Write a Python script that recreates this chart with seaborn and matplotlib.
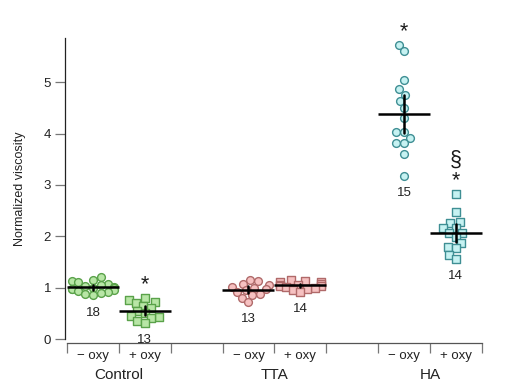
import matplotlib
matplotlib.use("Agg")
import matplotlib.pyplot as plt
import matplotlib.transforms as mtransforms
import seaborn as sns
import pandas as pd
import numpy as np

sns.set_theme(style="white")
plt.rcParams['font.family'] = ['Liberation Sans', 'DejaVu Sans']

# ---- data ----
groups = ["Control", "TTA", "HA"]
conditions = ["− oxy", "+ oxy"]
ctrl_minus = [1.20, 1.15, 1.12, 1.10, 1.08, 1.05, 1.03, 1.02, 1.00, 1.00, 0.98, 0.97, 0.95, 0.93, 0.92, 0.90, 0.88, 0.85]
ctrl_plus = [0.80, 0.75, 0.72, 0.70, 0.65, 0.60, 0.55, 0.50, 0.45, 0.42, 0.40, 0.35, 0.32]
tta_minus = [1.15, 1.12, 1.08, 1.05, 1.02, 1.00, 0.97, 0.95, 0.92, 0.88, 0.85, 0.80, 0.72]
tta_plus = [1.15, 1.12, 1.10, 1.10, 1.08, 1.06, 1.05, 1.04, 1.03, 1.02, 1.00, 0.98, 0.95, 0.92]
ha_minus = [5.72, 5.60, 5.04, 4.86, 4.75, 4.63, 4.50, 4.30, 4.03, 4.03, 3.91, 3.81, 3.81, 3.60, 3.18]
ha_plus = [2.82, 2.48, 2.28, 2.25, 2.16, 2.16, 2.07, 2.06, 1.99, 1.87, 1.80, 1.77, 1.63, 1.56]
sig_marks = {"Control|+ oxy": "*", "HA|− oxy": "*", "HA|+ oxy": "§\n*"}

series = {
    ("Control", "− oxy"): ctrl_minus, ("Control", "+ oxy"): ctrl_plus,
    ("TTA", "− oxy"): tta_minus, ("TTA", "+ oxy"): tta_plus,
    ("HA", "− oxy"): ha_minus, ("HA", "+ oxy"): ha_plus,
}
rows = []
for (g, c), vals in series.items():
    for v in vals:
        rows.append({"key": f"{g}|{c}", "group": g, "cond": c, "value": v})
df = pd.DataFrame(rows)

order = ["Control|− oxy", "Control|+ oxy", "gap1",
         "TTA|− oxy", "TTA|+ oxy", "gap2",
         "HA|− oxy", "HA|+ oxy"]

face = {"Control": "#b8e6a6", "TTA": "#f6c1c1", "HA": "#c6f2f2"}
edge = {"Control": "#5aa24a", "TTA": "#b06a6a", "HA": "#3f8f94"}
markers = {"− oxy": "o", "+ oxy": "s"}

fig = plt.figure(figsize=(5.14, 3.92), dpi=100)
ax = fig.add_axes([65 / 514, (392 - 339) / 392, 427 / 514, (339 - 38) / 392])
ax.set_xlim(-0.54, 7.7)
ax.set_ylim(0, 5.86)

for (g, c) in series:
    key = f"{g}|{c}"
    sub = df[df["key"] == key]
    n_before = len(ax.collections)
    sns.swarmplot(data=sub, x="key", y="value", order=order, ax=ax,
                  marker=markers[c], color=face[g], edgecolor=edge[g],
                  linewidth=1, size=4.5, zorder=2)
    # freeze the (overlapping) swarm layout, then draw with bigger markers
    for coll in ax.collections[n_before:]:
        if "draw" in coll.__dict__:
            del coll.__dict__["draw"]
        coll.set_sizes([5.8 ** 2 if c == "+ oxy" else 5.6 ** 2])

sns.pointplot(data=df, x="key", y="value", order=order, ax=ax,
              errorbar=("se", 2), linestyle="none", marker="_",
              markersize=37, markeredgewidth=1.8, color="black",
              err_kws={"linewidth": 1.8}, zorder=5)

ax.set_xlim(-0.54, 7.7)
ax.set_ylim(0, 5.86)

# n labels and significance marks
stats = df.groupby("key")["value"].agg(["count", "min", "max"])
for i, key in enumerate(order):
    if key not in stats.index:
        continue
    n, lo, hi = stats.loc[key]
    ax.text(i, lo - 0.22, f"{int(n)}", ha="center", va="top", fontsize=9.5, color="#222222")
    if key in sig_marks:
        ax.text(i, hi + 0.06, sig_marks[key], ha="center", va="bottom",
                fontsize=15.5, color="#1a1a1a", linespacing=0.95, clip_on=False)

# axes styling
for s in ["top", "right"]:
    ax.spines[s].set_visible(False)
ax.spines["left"].set_color("#222222")
ax.spines["left"].set_linewidth(0.9)
ax.spines["bottom"].set_position(("outward", 3))
ax.spines["bottom"].set_bounds(-0.5, 7.5)
ax.spines["bottom"].set_color("#555555")
ax.spines["bottom"].set_linewidth(0.9)

ax.set_yticks([0, 1, 2, 3, 4, 5])
ax.tick_params(axis="y", direction="out", length=7, width=0.9, color="#777777",
               labelsize=9.5, labelcolor="#222222", pad=3, left=True)

ax.set_xticks(np.arange(-0.5, 8.0, 1.0))
ax.set_xticklabels([])
ax.tick_params(axis="x", which="major", direction="out", length=7, width=0.9,
               color="#777777", bottom=True)
minor_pos = [0, 1, 3, 4, 6, 7]
ax.set_xticks(minor_pos, minor=True)
ax.set_xticklabels([conditions[0], conditions[1]] * 3, minor=True)
ax.tick_params(axis="x", which="minor", length=0, labelsize=9.5,
               labelcolor="#222222", pad=5, bottom=True)

trans = mtransforms.blended_transform_factory(ax.transData, fig.transFigure)
for gi, g in enumerate(groups):
    ax.text(gi * 3 + 0.5, 1 - 375 / 392, g, transform=trans, ha="center",
            va="center", fontsize=11, color="#222222")

ax.set_xlabel("")
ax.set_ylabel("Normalized viscosity", fontsize=9, color="#222222", labelpad=13)
ax.grid(False)

fig.savefig("out.png", dpi=100)
